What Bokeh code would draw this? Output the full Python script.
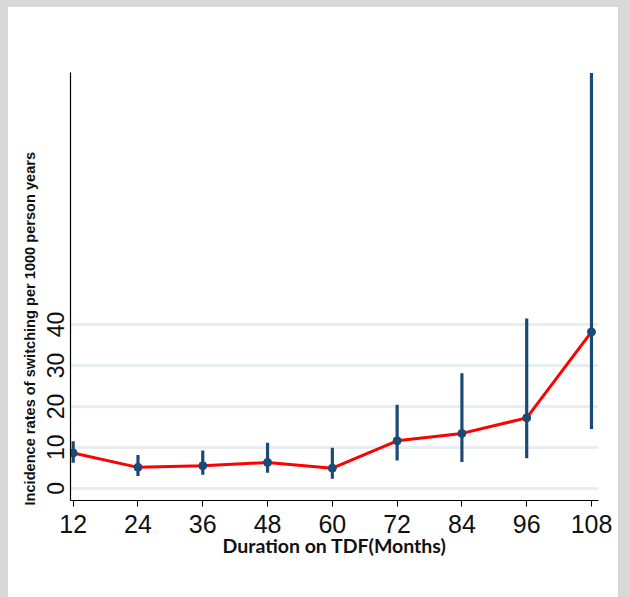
from bokeh.plotting import figure
from bokeh.models import Range1d, Title, FixedTicker, ColumnDataSource
from bokeh.embed import file_html
from bokeh.resources import INLINE

# ---- data ----
months = [12, 24, 36, 48, 60, 72, 84, 96, 108]
rate = [8.6, 5.1, 5.5, 6.3, 4.9, 11.6, 13.4, 17.2, 38.2]
lower = [6.2, 3.0, 3.3, 3.8, 2.3, 6.8, 6.4, 7.3, 14.5]
upper = [11.5, 8.1, 9.2, 11.1, 9.9, 20.4, 28.1, 41.5, 101.5]
x_ticks = [12, 24, 36, 48, 60, 72, 84, 96, 108]
y_ticks = [0, 10, 20, 30, 40]
x_title = "Duration on TDF(Months)"
y_title = "Incidence rates of switching per 1000 person years"

src = ColumnDataSource(dict(x=months, y=rate, lo=lower, hi=upper))

p = figure(width=630, height=597, output_backend="svg", toolbar_location=None,
           x_range=Range1d(11.5, 109.3), y_range=Range1d(-3.0, 101.6),
           min_border_left=70, min_border_right=32, min_border_top=72,
           min_border_bottom=97)
p.outline_line_color = None
p.background_fill_color = "white"
p.border_fill_color = None
p.styles = {"background-color": "white",
            "box-shadow": "inset 8px 7px 0 0 #d9d9d9, inset -12px 0 0 0 #d9d9d9"}

# grid
p.xgrid.grid_line_color = None
p.ygrid.grid_line_color = "#e7eef1"
p.ygrid.grid_line_width = 3
p.ygrid.ticker = FixedTicker(ticks=y_ticks)

# x axis
p.xaxis.ticker = FixedTicker(ticks=x_ticks)
p.xaxis.axis_line_color = "black"
p.xaxis.axis_line_width = 1.2
p.xaxis.major_tick_out = 6
p.xaxis.major_tick_in = 0
p.xaxis.minor_tick_line_color = None
p.xaxis.major_tick_line_color = "black"
p.xaxis.major_label_text_font = "Liberation Sans"
p.xaxis.major_label_text_font_size = "25px"
p.xaxis.major_label_text_color = "#111111"
p.xaxis.major_label_standoff = 8
p.xaxis.axis_label = x_title
p.xaxis.axis_label_text_font = "Lato"
p.xaxis.axis_label_text_font_style = "bold"
p.xaxis.axis_label_text_font_size = "19.5px"
p.xaxis.axis_label_text_color = "#111111"
p.xaxis.axis_label_standoff = -2

# y axis
p.yaxis.ticker = FixedTicker(ticks=y_ticks)
p.yaxis.axis_line_color = "black"
p.yaxis.axis_line_width = 1.2
p.yaxis.major_tick_out = 0
p.yaxis.major_tick_in = 0
p.yaxis.minor_tick_line_color = None
p.yaxis.major_label_orientation = "vertical"
p.yaxis.major_label_text_font = "Liberation Sans"
p.yaxis.major_label_text_font_size = "23px"
p.yaxis.major_label_text_color = "#111111"
p.yaxis.major_label_standoff = 6

# y title as a left-side title, starting at the bottom of the frame
p.add_layout(Title(text=y_title, align="left", offset=-5, standoff=13,
                   text_font="Liberation Sans", text_font_style="bold",
                   text_font_size="14.6px", text_color="#111111"), "left")

# error bars
p.segment(x0="x", y0="lo", x1="x", y1="hi", source=src,
          line_color="#1d4a75", line_width=3.2)
# red line
p.line(x="x", y="y", source=src, line_color="#ff0000", line_width=3)
# markers
p.scatter(x="x", y="y", source=src, size=8, fill_color="#1d4a75",
          line_color="#1d4a75")

open("out.html", "w").write(file_html(p, INLINE))
